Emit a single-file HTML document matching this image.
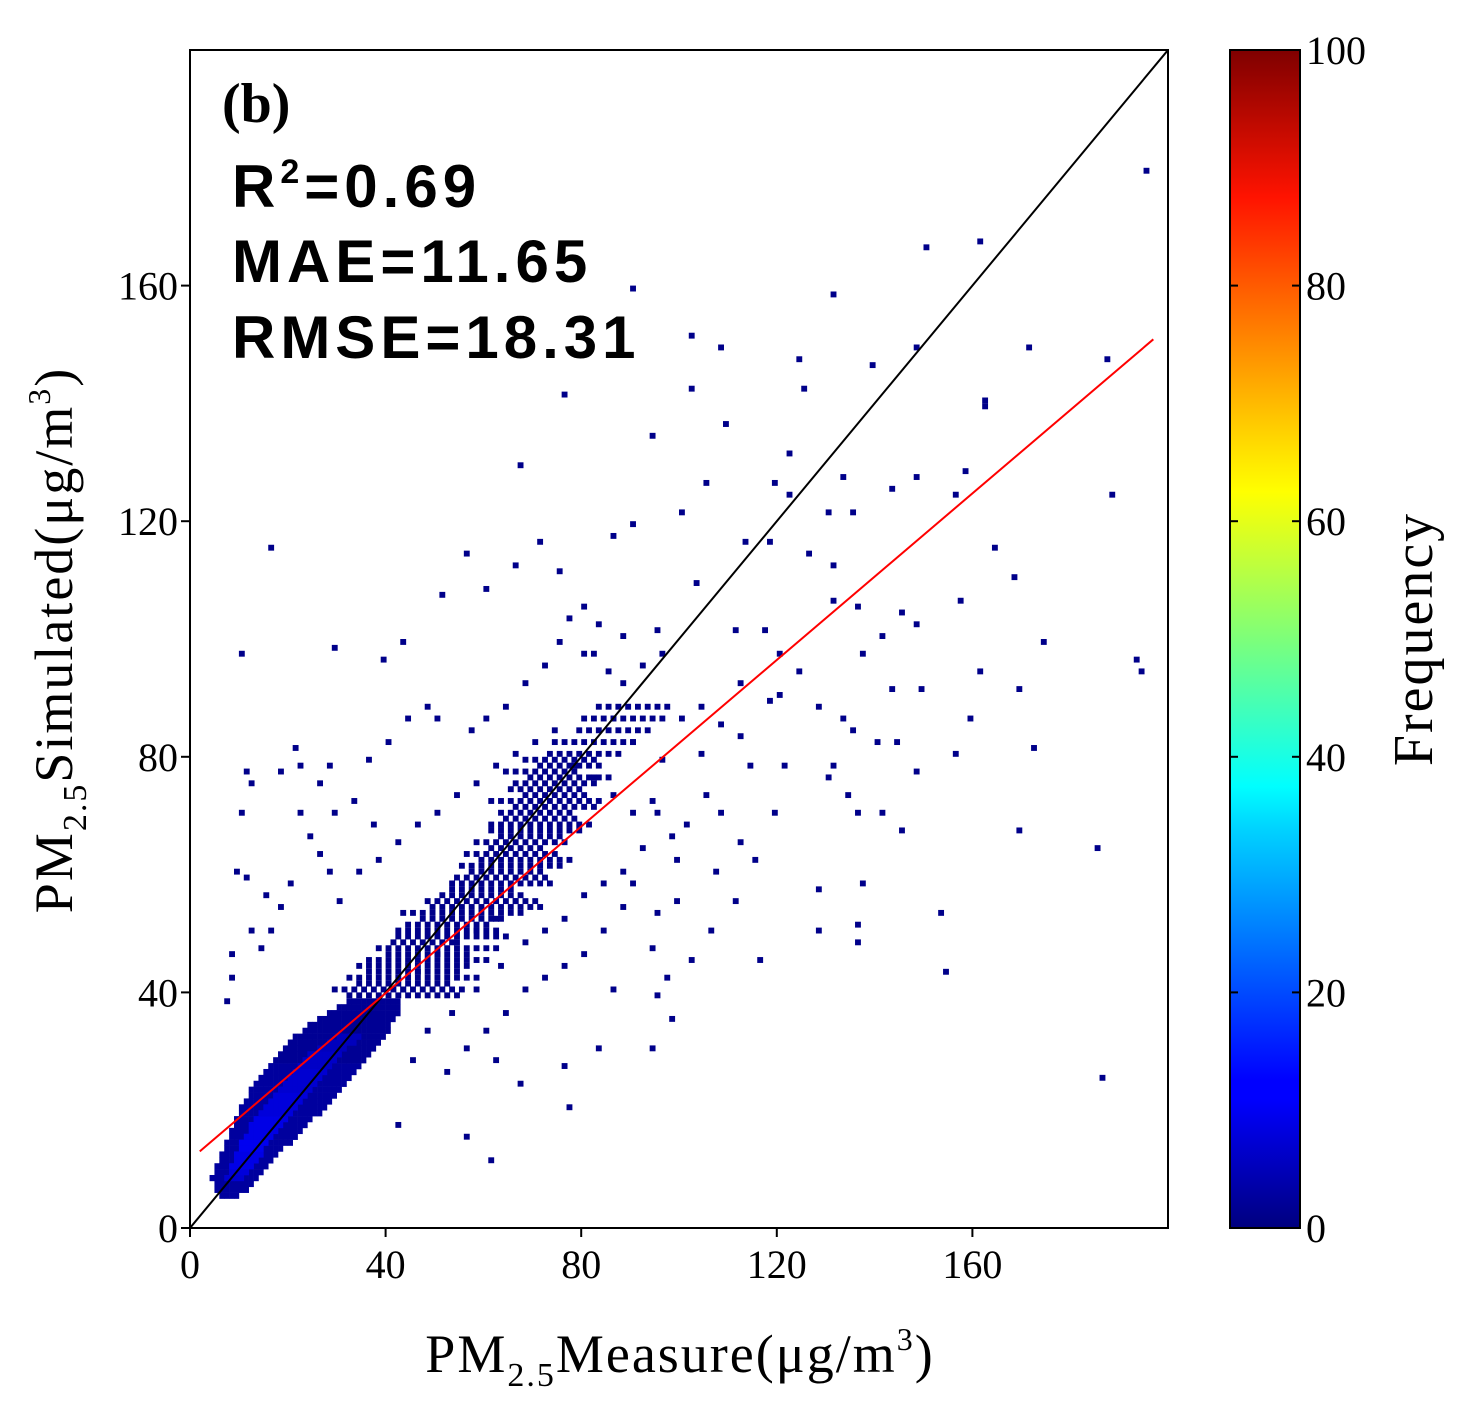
<!DOCTYPE html>
<html><head><meta charset="utf-8"><style>
html,body{margin:0;padding:0;background:#fff;}
svg{display:block;font-family:"Liberation Serif",serif;}
</style></head><body>
<svg id="chart" width="1465" height="1401" viewBox="0 0 1465 1401" xmlns="http://www.w3.org/2000/svg">
<defs>
<linearGradient id="jet" x1="0" y1="1" x2="0" y2="0">
<stop offset="0" stop-color="#00007f"/><stop offset="0.11" stop-color="#0000ff"/><stop offset="0.125" stop-color="#0000ff"/>
<stop offset="0.34" stop-color="#00d4ff"/><stop offset="0.375" stop-color="#00ffff"/><stop offset="0.5" stop-color="#7dff7a"/>
<stop offset="0.625" stop-color="#ffff00"/><stop offset="0.66" stop-color="#ffe000"/><stop offset="0.875" stop-color="#ff1300"/><stop offset="1" stop-color="#7f0000"/>
</linearGradient>
<clipPath id="plotclip"><rect x="190" y="50" width="978" height="1178"/></clipPath>
</defs>
<g id="cells" clip-path="url(#plotclip)"></g>
<g id="lines" clip-path="url(#plotclip)"></g>
<rect x="190" y="50" width="978" height="1178" fill="none" stroke="#000" stroke-width="2"/>
<g id="axes"></g>
<text x="222" y="122" font-size="56" font-weight="bold">(b)</text>
<g font-family="Liberation Sans, sans-serif" font-weight="bold" font-size="60" letter-spacing="5">
<text x="232" y="207">R<tspan font-size="34" dy="-24">2</tspan><tspan dy="24">=0.69</tspan></text>
<text x="232" y="282">MAE=11.65</text>
<text x="232" y="358">RMSE=18.31</text>
</g>
<text x="680" y="1372" font-size="54" text-anchor="middle" letter-spacing="2">PM<tspan font-size="34" dy="14">2.5</tspan><tspan dy="-14">Measure(μg/m</tspan><tspan font-size="32" dy="-22">3</tspan><tspan dy="22">)</tspan></text>
<text transform="translate(72,640) rotate(-90)" font-size="54" text-anchor="middle" letter-spacing="2">PM<tspan font-size="34" dy="14">2.5</tspan><tspan dy="-14">Simulated(μg/m</tspan><tspan font-size="32" dy="-22">3</tspan><tspan dy="22">)</tspan></text>
<rect x="1230" y="50" width="70" height="1178" fill="url(#jet)" stroke="#000" stroke-width="2"/>
<g id="cbar"></g>
<text transform="translate(1432,639) rotate(-90)" font-size="56" text-anchor="middle" letter-spacing="2">Frequency</text>
</svg>
<script>
const xTicks=[0,40,80,120,160];
const yTicks=[0,40,80,120,160];
const cbTicks=[0,20,40,60,80,100];
const fitSlope=0.707, fitIntercept=11.6;
const coreY=[5,6,7,8,9,10,11,12,13,14,15,16,17,18,19,20,21,22,23,24,25,26,27,28,29,30,31,32,33,34,35,36,37,38];
const coreX0=[6,5,5,4,5,5,6,6,7,7,8,8,9,9,10,10,11,12,12,13,14,15,16,17,18,19,20,21,23,24,26,28,30,32];
const coreX1=[9,11,12,13,14,15,16,17,18,20,21,22,23,24,26,27,28,29,30,31,32,33,34,35,36,37,38,39,40,40,41,42,42,42];
const coreCount=[3,3,3,3,3,3,3,3,3,3,3,3,3,3,3,3,3,3,3,3,3,3,3,2,2,2,2,2,2,2,2,2,2,2];
const innerY=[8,9,10,11,12,13,14,15,16,17,18,19,20,21,22,23,24,25,26,27,28,29,30,31,32];
const innerX0=[7,8,8,9,9,10,10,11,12,12,13,14,15,16,17,18,19,20,21,22,23,24,26,28,30];
const innerX1=[10,11,12,13,14,14,15,16,17,18,19,20,21,22,23,24,25,26,27,28,29,30,31,33,34];
const innerCount=[8,9,10,10,10,11,11,10,10,10,10,9,9,9,9,8,8,8,8,7,7,7,6,6,6];
const midY=[39,40,41,42,43,44,45,46,47,48,49,50,51,52,53,54,55,56,57,58,59,60,61,62,63,64,65,66,67,68,69,70,71,72,73,74,75,76,77,78,79,80,82,84,86,88];
const midX0=[32,28,34,31,36,33,36,39,38,40,42,41,44,46,43,48,48,50,53,52,54,56,55,58,56,60,58,62,61,60,64,62,66,60,68,64,66,68,64,70,68,72,74,78,80,82];
const midX1=[54,56,52,58,54,57,60,56,62,54,64,62,60,64,68,72,70,68,66,74,72,72,76,78,74,72,76,76,80,82,78,78,82,84,80,80,82,86,78,84,82,88,90,94,96,98];
const midCount=[1,1,1,1,1,1,1,1,1,1,1,1,1,1,1,1,1,1,1,1,1,1,1,1,1,1,1,1,1,1,1,1,1,1,1,1,1,1,1,1,1,1,1,1,1,1];
const ptX=[195,150,161,131,90,102,108,148,171,187,124,139,125,102,76,162,162,109,94,122,67,105,133,148,119,122,143,158,156,130,135,188,90,100,86,71,56,113,126,118,164,168,16,66,75,60,51,103,131,136,145,148,157,131,141,174,111,117,10,29,43,39,80,96,120,137,161,149,169,193,194,112,120,128,133,143,159,135,118,124,140,144,156,172,148,104,114,121,131,134,141,145,169,136,130,119,185,112,115,107,99,137,128,111,99,95,106,128,136,153,136,116,102,94,97,95,86,154,98,94,83,76,62,67,61,56,42,77,186,21,11,12,18,22,26,28,9,11,12,8,8,7,14,15,10,29,33,37,36,40,44,48,50,57,60,64,68,72,75,82,85,88,88,92,95,83,80,77,86,90,96,100,104,108,112,105,108,101,95,98,92,88,84,80,76,72,68,63,58,53,48,45,52,56,60,64,68,72,76,80,84,88,90,66,62,58,54,50,46,43,30,28,26,24,22,20,18,16,34,38,42,46,50,54,58,62,66,70,74,78,82,86,90,94];
const ptY=[179,166,167,158,159,151,149,149,149,147,147,146,142,142,141,140,139,136,134,131,129,126,127,127,126,124,125,128,124,121,121,124,119,121,117,116,114,116,114,116,115,110,115,112,111,108,107,109,112,105,104,102,106,106,100,99,101,101,97,98,99,96,97,97,97,97,94,91,91,96,94,92,90,88,86,91,86,84,89,94,82,82,80,81,77,80,78,78,78,73,70,67,67,70,76,70,64,65,62,60,62,58,57,55,55,53,50,50,51,53,48,45,45,47,42,39,40,43,35,30,30,27,28,24,11,15,17,20,25,81,77,75,77,78,75,78,60,59,50,46,42,38,47,56,70,70,72,68,79,82,86,88,86,84,86,88,92,95,99,97,94,92,100,95,101,102,105,103,86,82,79,86,88,85,83,73,70,68,70,66,64,60,58,56,52,50,48,44,40,36,33,28,26,30,33,36,40,42,44,46,50,54,58,55,52,50,48,46,43,40,55,60,63,66,70,58,54,50,60,62,65,68,70,73,75,78,80,82,84,78,76,73,70,72];

const X0=190,X1=1168,Y0=1228,Y1=50,MAX=200;
const sx=v=>X0+v*(X1-X0)/MAX, sy=v=>Y0-v*(Y0-Y1)/MAX;
const NS='http://www.w3.org/2000/svg';
function jet(t){t=Math.max(0,Math.min(1,t));
 const f=(a)=>Math.max(0,Math.min(1,1.5-Math.abs(4*t-a)));
 return `rgb(${Math.round(255*f(3))},${Math.round(255*f(2))},${Math.round(255*f(1))})`;}
const cells=document.getElementById('cells');
function cell(x,y,c,w){const r=document.createElementNS(NS,'rect');
 const cw=sx(1)-sx(0), ch=sy(0)-sy(1);
 r.setAttribute('x',sx(x));r.setAttribute('y',sy(y+1));
 r.setAttribute('width',w?cw*1.2:cw+0.3);r.setAttribute('height',w?ch*1.0:ch+0.3);
 r.setAttribute('fill',jet(c/100));
 
 
 cells.appendChild(r);}
function rows(Y,A,B,C,stride){for(let i=0;i<Y.length;i++)for(let x=A[i]+(stride?(i%2):0);x<=B[i];x+=(stride||1))cell(x,Y[i],C[i],stride);}
rows(midY,midX0,midX1,midCount,2);
rows(coreY,coreX0,coreX1,coreCount);
rows(innerY,innerX0,innerX1,innerCount);
for(let i=0;i<ptX.length;i++)cell(ptX[i],ptY[i],1,1);

const lines=document.getElementById('lines');
function line(x1,y1,x2,y2,col,w,name,parent){const l=document.createElementNS(NS,'line');
 l.setAttribute('x1',x1);l.setAttribute('y1',y1);l.setAttribute('x2',x2);l.setAttribute('y2',y2);
 l.setAttribute('stroke',col);l.setAttribute('stroke-width',w);
 
 
 parent.appendChild(l);}
line(sx(0),sy(0),sx(200),sy(200),'#000',2,'one-to-one-line',lines);
line(sx(2),sy(fitIntercept+fitSlope*2),sx(197),sy(fitIntercept+fitSlope*197),'#ff0000',2,'regression-line',lines);

const axes=document.getElementById('axes');
function text(x,y,s,anchor,name,parent,size){const t=document.createElementNS(NS,'text');
 t.setAttribute('x',x);t.setAttribute('y',y);t.setAttribute('text-anchor',anchor);t.setAttribute('font-size',size||40);
 t.textContent=s;
 
 
 parent.appendChild(t);}
xTicks.forEach(v=>{line(sx(v),Y0,sx(v),Y0+9,'#000',2,'x-tick',axes);text(sx(v),Y0+50,String(v),'middle','x-tick-label',axes);});
yTicks.forEach(v=>{line(X0-9,sy(v),X0,sy(v),'#000',2,'y-tick',axes);text(X0-12,sy(v)+14,String(v),'end','y-tick-label',axes);});
const cb=document.getElementById('cbar');
cbTicks.forEach(v=>{const y=Y0-v*(Y0-Y1)/100;line(1292,y,1300,y,'#000',2,'colorbar-tick',cb);line(1230,y,1238,y,'#000',2,'colorbar-tick',cb);text(1306,y+14,String(v),'start','colorbar-tick-label',cb);});
</script>
</body></html>
